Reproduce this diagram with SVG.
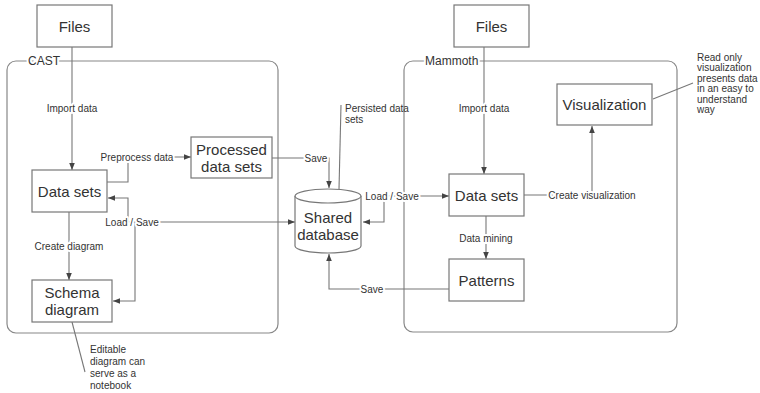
<svg xmlns="http://www.w3.org/2000/svg" width="760" height="393" viewBox="0 0 760 393">
<style>
text{font-family:"Liberation Sans",Arial,sans-serif;fill:#333;dominant-baseline:central}
.box{fill:#fff;stroke:#777;stroke-width:1.2}
.cont{fill:none;stroke:#888;stroke-width:1.2}
.n{font-size:15px;text-anchor:middle}
.l{font-size:10px;text-anchor:middle;stroke:#fff;stroke-width:4;paint-order:stroke;stroke-linejoin:round}
.c{font-size:12px;stroke:#fff;stroke-width:4;paint-order:stroke}
.a{font-size:10px}
.ln{fill:none;stroke:#777;stroke-width:1.1}
</style>
<defs>
<marker id="ah" viewBox="0 0 8 8" refX="8" refY="4" markerWidth="7" markerHeight="7" markerUnits="userSpaceOnUse" orient="auto">
<path d="M0,0.8 L8,4 L0,7.2 Z" fill="#444"/>
</marker>
</defs>
<g id="cast">
<rect class="cont" x="7" y="61" width="271" height="272" rx="9"/>
<text class="c" x="28" y="61">CAST</text>
</g>
<g id="mammoth">
<rect class="cont" x="404" y="61" width="273" height="271" rx="9"/>
<text class="c" x="425" y="61">Mammoth</text>
</g>
<g id="connectors">
<path class="ln" d="M72,47 V170" marker-end="url(#ah)"/>
<path class="ln" d="M107,182 H128 V157 H191" marker-end="url(#ah)"/>
<path class="ln" d="M272,158 H329 V188" marker-end="url(#ah)"/>
<path class="ln" d="M135,222 H295" marker-end="url(#ah)"/>
<path class="ln" d="M135,222 H128 V198 H108" marker-end="url(#ah)"/>
<path class="ln" d="M135,222 V301 H113" marker-end="url(#ah)"/>
<path class="ln" d="M69,212 V280" marker-end="url(#ah)"/>
<path class="ln" d="M484,47 V174" marker-end="url(#ah)"/>
<path class="ln" d="M384,196 V222 H363" marker-end="url(#ah)"/>
<path class="ln" d="M384,196 H449" marker-end="url(#ah)"/>
<path class="ln" d="M524,195 H592 V126" marker-end="url(#ah)"/>
<path class="ln" d="M486,216 V259" marker-end="url(#ah)"/>
<path class="ln" d="M449,289 H329 V254" marker-end="url(#ah)"/>
<path class="ln" d="M339,189 L341,105"/>
<path class="ln" d="M72,322 L85,372"/>
<path class="ln" d="M653,99 L693,83"/>
<text class="l" x="72" y="108">Import data</text>
<text class="l" x="137" y="157">Preprocess data</text>
<text class="l" x="316" y="158">Save</text>
<text class="l" x="132" y="222">Load / Save</text>
<text class="l" x="69" y="246">Create diagram</text>
<text class="l" x="484" y="108">Import data</text>
<text class="l" x="392" y="196">Load / Save</text>
<text class="l" x="592" y="195">Create visualization</text>
<text class="l" x="486" y="238">Data mining</text>
<text class="l" x="372" y="289">Save</text>
</g>
<g id="files-left">
<rect class="box" x="37" y="5" width="75" height="42"/>
<text class="n" x="74.5" y="26">Files</text>
</g>
<g id="datasets-left">
<rect class="box" x="32" y="170" width="75" height="42"/>
<text class="n" x="69.5" y="191">Data sets</text>
</g>
<g id="processed">
<rect class="box" x="191" y="137" width="81" height="41"/>
<text class="n" x="231.5" y="149">Processed</text>
<text class="n" x="231.5" y="166">data sets</text>
</g>
<g id="schema">
<rect class="box" x="32" y="280" width="80" height="42"/>
<text class="n" x="72" y="292">Schema</text>
<text class="n" x="72" y="309">diagram</text>
</g>
<g id="database">
<path class="box" d="M295,196 V246 A33,7 0 0 0 361,246 V196 A33,7 0 0 0 295,196 Z"/>
<path class="box" d="M295,196 A33,7 0 0 0 361,196" fill="none"/>
<text class="n" x="328" y="217">Shared</text>
<text class="n" x="328" y="234">database</text>
</g>
<g id="files-right">
<rect class="box" x="454" y="5" width="75" height="42"/>
<text class="n" x="491.5" y="26">Files</text>
</g>
<g id="datasets-right">
<rect class="box" x="449" y="174" width="75" height="42"/>
<text class="n" x="486.5" y="195">Data sets</text>
</g>
<g id="visualization">
<rect class="box" x="557" y="84" width="95" height="41"/>
<text class="n" x="604.5" y="104">Visualization</text>
</g>
<g id="patterns">
<rect class="box" x="449" y="259" width="75" height="42"/>
<text class="n" x="486.5" y="280">Patterns</text>
</g>
<g id="note-persisted">
<text class="a" x="345" y="108">Persisted data</text>
<text class="a" x="345" y="119">sets</text>
</g>
<g id="note-editable">
<text class="a" x="90" y="349">Editable</text>
<text class="a" x="90" y="361">diagram can</text>
<text class="a" x="90" y="373">serve as a</text>
<text class="a" x="90" y="385">notebook</text>
</g>
<g id="note-readonly">
<text class="a" x="697" y="57">Read only</text>
<text class="a" x="697" y="67.5">visualization</text>
<text class="a" x="697" y="78">presents data</text>
<text class="a" x="697" y="88.5">in an easy to</text>
<text class="a" x="697" y="99">understand</text>
<text class="a" x="697" y="109.5">way</text>
</g>
</svg>
